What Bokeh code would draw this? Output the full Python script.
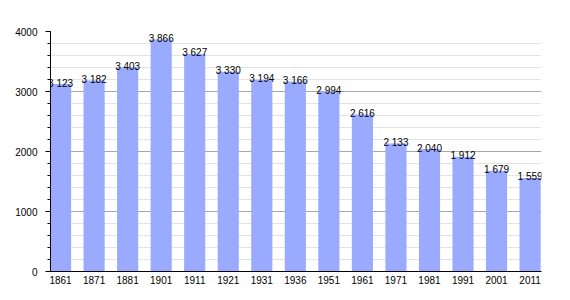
from bokeh.plotting import figure
from bokeh.models import Range1d, FixedTicker, ColumnDataSource
from bokeh.core.properties import value
from bokeh.embed import file_html
from bokeh.resources import INLINE

years = ["1861", "1871", "1881", "1901", "1911", "1921", "1931", "1936",
         "1951", "1961", "1971", "1981", "1991", "2001", "2011"]
population = [3123, 3182, 3403, 3866, 3627, 3330, 3194, 3166,
              2994, 2616, 2133, 2040, 1912, 1679, 1559]
y_ticks = [0, 1000, 2000, 3000, 4000]
y_minor_ticks = list(range(0, 4001, 200))

positions = list(range(len(years)))
labels = [f"{v:,}".replace(",", " ") for v in population]
src = ColumnDataSource(dict(x=positions, top=population, label=labels))

FONT = "Liberation Sans"

p = figure(width=570, height=300, output_backend="svg", toolbar_location=None,
           x_range=Range1d(-0.3, 14.34), y_range=Range1d(0, 4000),
           min_border_left=50, min_border_right=29, min_border_top=31,
           min_border_bottom=29)
p.outline_line_color = None
p.background_fill_color = "white"
p.border_fill_color = "white"

p.vbar(x="x", top="top", width=0.63, source=src, fill_color="#99aaff",
       line_color=None)
p.text(x="x", y="top", text="label", source=src, text_align="center",
       text_baseline="alphabetic", text_font_size="10px",
       text_font=value(FONT), text_color="black", y_offset=-1)

p.xgrid.visible = False
p.ygrid.grid_line_color = "#a8a8a8"
p.ygrid.minor_grid_line_color = "#e4e4e4"

p.xaxis.ticker = FixedTicker(ticks=positions)
p.xaxis.major_label_overrides = {i: y for i, y in enumerate(years)}
p.xaxis.major_tick_out = 0
p.xaxis.major_tick_in = 0
p.xaxis.minor_tick_out = 0
p.xaxis.major_label_standoff = 4

p.yaxis.ticker = FixedTicker(ticks=y_ticks, minor_ticks=y_minor_ticks)
p.yaxis.major_tick_out = 5
p.yaxis.major_tick_in = 0
p.yaxis.minor_tick_out = 3
p.yaxis.minor_tick_in = 0
p.yaxis.major_label_standoff = 8

for ax in (p.xaxis, p.yaxis):
    ax.axis_line_color = "black"
    ax.major_tick_line_color = "black"
    ax.minor_tick_line_color = "black"
    ax.major_label_text_font = FONT
    ax.major_label_text_font_size = "10px"
    ax.major_label_text_color = "black"

open("out.html", "w").write(file_html(p, INLINE))
